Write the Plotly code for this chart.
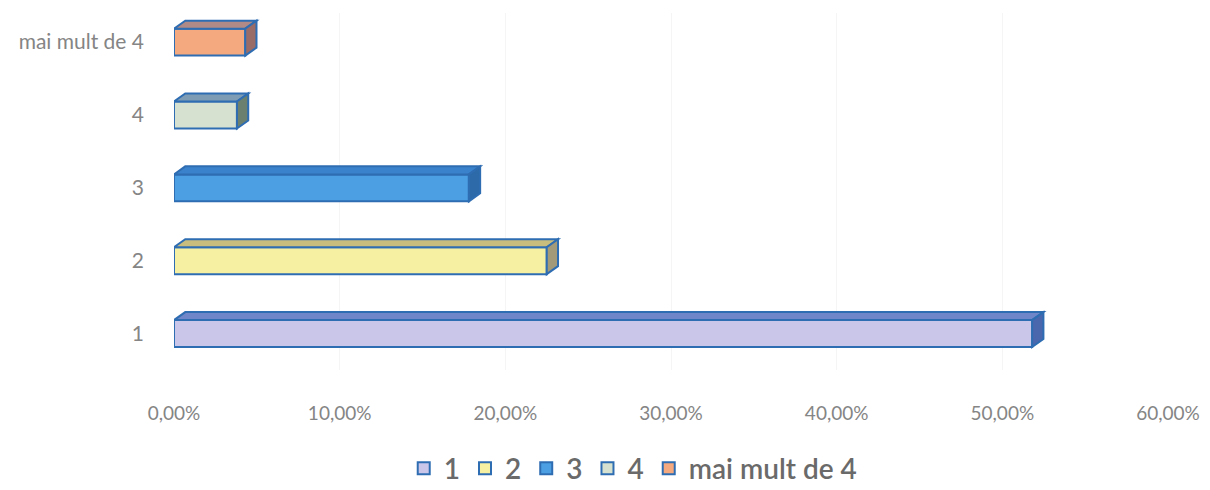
import plotly.graph_objects as go

categories = ["1", "2", "3", "4", "mai mult de 4"]
values = [0.518, 0.225, 0.178, 0.038, 0.043]
x_ticks = [0, 0.1, 0.2, 0.3, 0.4, 0.5, 0.6]

front_colors = ["#c9c6ea", "#f6f0a2", "#4b9fe2", "#d6e2cf", "#f5a97e"]
top_colors = ["#6f86c9", "#c9bd7e", "#3a83cc", "#7f9cb5", "#b08a86"]
side_colors = ["#4a66ad", "#a39a7a", "#2c6aaa", "#6b806e", "#9a6c68"]
outline = "#2f6db2"

bar_w = 0.37
dx = 0.0068
dy = 0.11

fig = go.Figure()
for i, (c, v) in enumerate(zip(categories, values)):
    fig.add_trace(go.Bar(
        x=[v], y=[i], orientation="h", name=c, width=bar_w,
        marker=dict(color=front_colors[i], line=dict(color=outline, width=2)),
        hoverinfo="x+name",
    ))

shapes = []
h = bar_w / 2
for i, v in enumerate(values):
    top = f"M 0,{i+h} L {v},{i+h} L {v+dx},{i+h+dy} L {dx},{i+h+dy} Z"
    side = f"M {v},{i-h} L {v+dx},{i-h+dy} L {v+dx},{i+h+dy} L {v},{i+h} Z"
    shapes.append(dict(type="path", path=top, xref="x", yref="y",
                       fillcolor=top_colors[i], line=dict(color=outline, width=2)))
    shapes.append(dict(type="path", path=side, xref="x", yref="y",
                       fillcolor=side_colors[i], line=dict(color=outline, width=2)))

fig.update_layout(
    width=1210, height=490,
    margin=dict(l=166, r=50, t=5, b=123),
    paper_bgcolor="white", plot_bgcolor="white",
    barmode="overlay",
    separators=",.",
    font=dict(family="Lato", color="#858585", size=19),
    shapes=shapes,
    xaxis=dict(range=[0, 0.6], tickvals=x_ticks, tickformat=".2%",
               showgrid=True, gridcolor="#f5f5f5", gridwidth=1,
               zeroline=False, showline=False, ticks="",
               ticklabelstandoff=30, tickfont=dict(size=19, color="#858585")),
    yaxis=dict(range=[-0.5, 4.4], tickvals=list(range(len(categories))),
               ticktext=categories, showgrid=False, zeroline=False,
               showline=False, ticks="", ticklabelstandoff=29,
               tickfont=dict(size=21, color="#858585")),
    legend=dict(orientation="h", x=0.462, xanchor="center", y=-0.276,
                yanchor="middle", traceorder="normal",
                font=dict(size=28, color="#6a6a6a", family="Lato", weight=600),
                itemwidth=30),
    showlegend=True,
)

fig.write_html("out.html")
